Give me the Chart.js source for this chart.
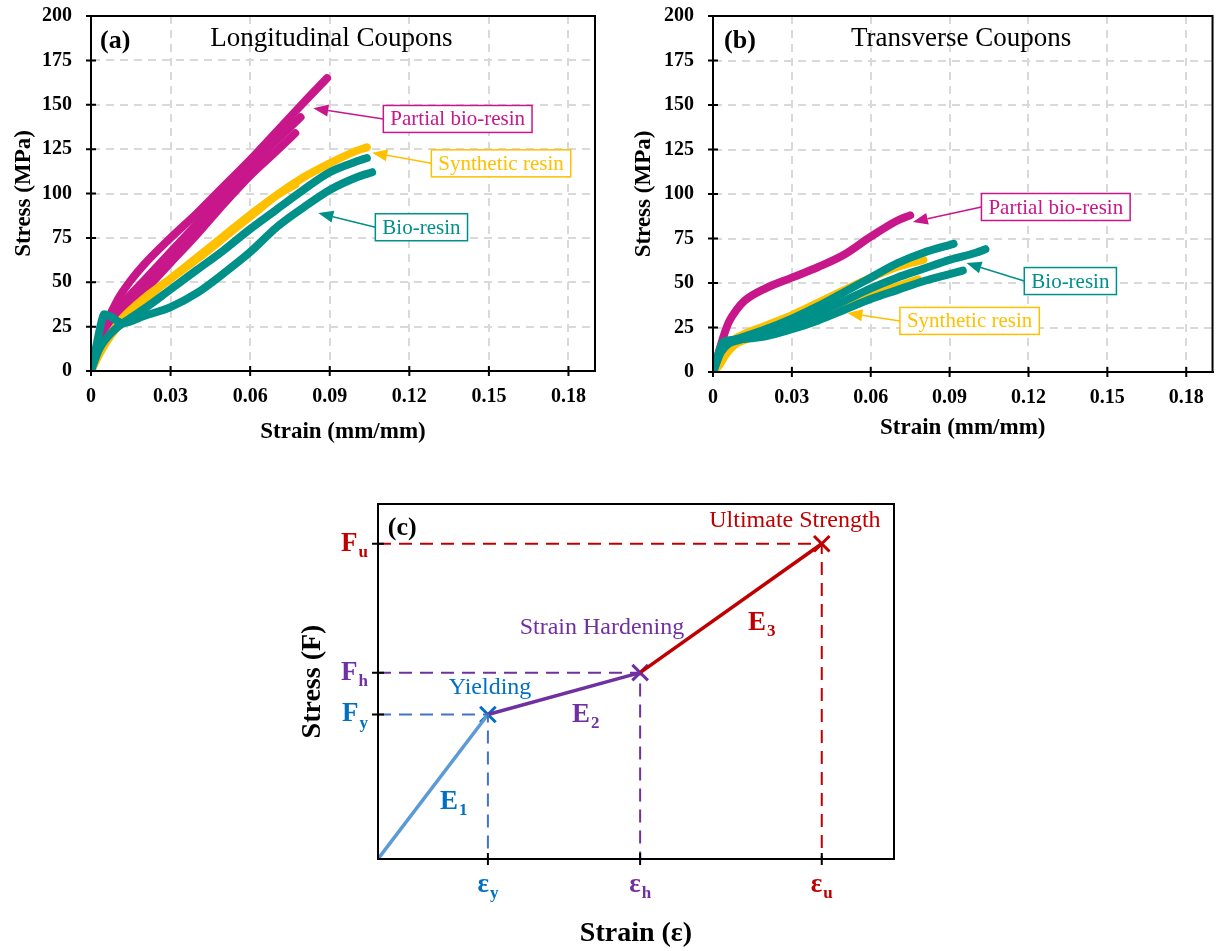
<!DOCTYPE html>
<html lang="en">
<head>
<meta charset="UTF-8">
<title>Tensile stress-strain curves</title>
<script src="https://cdn.jsdelivr.net/npm/chart.js@4"></script>
<style>
  body { margin: 0; background: #fff; overflow: hidden; }
  .panel { position: absolute; }
</style>
</head>
<body>
<div class="panel" style="left:0;top:-15px"><canvas id="chartA" width="610" height="465"></canvas></div>
<div class="panel" style="left:610px;top:-15px"><canvas id="chartB" width="608" height="465"></canvas></div>
<div class="panel" style="left:290px;top:490px"><canvas id="chartC" width="620" height="461"></canvas></div>
<script>
// axes of panels (a) and (b)
const strainTicks = [0, 0.03, 0.06, 0.09, 0.12, 0.15, 0.18];
const strainTickLabels = ['0', '0.03', '0.06', '0.09', '0.12', '0.15', '0.18'];
const stressTicks = [0, 25, 50, 75, 100, 125, 150, 175, 200];
const stressTickLabels = ['0', '25', '50', '75', '100', '125', '150', '175', '200'];

// (a) longitudinal coupons: [strain, stress MPa]
const longPartial1 = [[0,0],[0.002,10],[0.005,24],[0.01,40],[0.015,51],[0.02,60],[0.03,75],[0.04,89],[0.05,104],[0.06,119],[0.07,135],[0.08,151],[0.089,165]];
const longPartial2 = [[0,0],[0.003,13],[0.007,27],[0.012,38],[0.02,51],[0.03,67],[0.04,83],[0.05,99],[0.06,115],[0.07,130],[0.079,143]];
const longPartial3 = [[0,0],[0.003,11],[0.008,26],[0.014,36],[0.02,45],[0.03,61],[0.04,77],[0.05,94],[0.06,110],[0.07,124],[0.077,134]];
const longSynth1 = [[0,0],[0.003,10],[0.007,20],[0.012,30],[0.02,41],[0.03,52],[0.04,63],[0.05,75],[0.06,87],[0.07,99],[0.08,109],[0.09,117],[0.1,124],[0.104,126]];
const longSynth2 = [[0,0],[0.003,9],[0.008,21],[0.015,33],[0.02,40],[0.03,52],[0.04,64],[0.05,76],[0.06,88],[0.07,99],[0.077,105]];
const longBio1 = [[0,0],[0.003,12],[0.008,22],[0.015,30],[0.02,35],[0.03,46],[0.04,57],[0.05,68],[0.06,80],[0.07,91],[0.08,102],[0.09,112],[0.1,118],[0.104,120]];
const longBio2 = [[0,0],[0.002,14],[0.004,28],[0.005,32],[0.007,31],[0.012,27],[0.02,31],[0.03,36],[0.04,44],[0.05,55],[0.06,67],[0.07,81],[0.08,92],[0.09,102],[0.1,109],[0.106,112]];

// (b) transverse coupons
const transPartial = [[0,0],[0.002,10],[0.004,20],[0.006,28],[0.009,35],[0.012,40],[0.02,47],[0.03,53],[0.04,59],[0.05,66],[0.06,76],[0.07,85],[0.075,88]];
const transSynth1 = [[0,0],[0.002,4],[0.004,10],[0.007,17],[0.01,20],[0.02,26],[0.03,32],[0.04,39],[0.05,46],[0.06,53],[0.07,59],[0.08,63]];
const transSynth2 = [[0,0],[0.002,3],[0.005,10],[0.008,15],[0.012,18],[0.02,22],[0.03,28],[0.04,34],[0.05,39],[0.06,44],[0.07,48],[0.078,52]];
const transBio1 = [[0,0],[0.003,12],[0.006,17],[0.01,19],[0.02,24],[0.03,30],[0.04,37],[0.05,45],[0.06,53],[0.07,61],[0.08,67],[0.0915,72]];
const transBio2 = [[0,0],[0.003,11],[0.006,16],[0.01,18],[0.02,22],[0.03,27],[0.04,33],[0.05,40],[0.06,47],[0.07,53],[0.08,58],[0.09,63],[0.1,67],[0.1036,69]];
const transBio3 = [[0,0],[0.002,10],[0.004,17],[0.008,18],[0.015,19],[0.02,20],[0.03,24],[0.04,29],[0.05,35],[0.06,41],[0.07,46],[0.08,51],[0.09,55],[0.095,57]];

// (c) idealised trilinear model (relative units 0-100): origin, yield, hardening, ultimate
const modelStrain = [0, 21.3, 50.8, 86.0];
const modelStress = [0, 40.7, 52.5, 88.8];
const modelSubs = ['', 'y', 'h', 'u'];

const SERIF = '"Liberation Serif", "Times New Roman", serif';
const MAGENTA = '#C8178A', AMBER = '#FFC000', TEAL = '#00908A';
const BLUE = '#0070C0', LIGHTBLUE = '#5B9BD5', DASHBLUE = '#4472C4', PURPLE = '#7030A0', RED = '#C00000';

const pts = arr => arr.map(p => ({x: p[0], y: p[1]}));

function curve(arr, color) {
  return { data: pts(arr), borderColor: color, borderWidth: 8, showLine: true, pointRadius: 0,
           borderCapStyle: 'round', borderJoinStyle: 'round', cubicInterpolationMode: 'monotone', fill: false };
}

function axis(o) {
  return {
    type: 'linear', min: o.min, max: o.max,
    afterBuildTicks: s => { s.ticks = o.ticks.map(v => ({value: v})); },
    afterFit: s => { if (o.horizontal) s.height = o.size; else s.width = o.size; },
    ticks: { display: !!o.labels, autoSkip: false, maxRotation: 0, padding: o.tickPad || 0, color: '#000',
             font: {family: SERIF, size: 20, weight: 'bold'},
             callback: (v, i) => o.labels ? o.labels[i] : '' },
    grid: o.grid ? { color: '#d9d9d9', lineWidth: 2, drawTicks: false } : { display: false, drawTicks: false },
    border: { display: true, color: '#000', width: 2, dash: o.grid ? [8, 6] : [] },
    title: { display: true, text: o.title, color: '#000',
             font: {family: SERIF, size: o.titleSize, weight: 'bold', lineHeight: 1.2},
             padding: o.horizontal ? {top: 0, bottom: o.titlePad} : {top: o.titlePad, bottom: 0} }
  };
}

function drawText(ctx, t, px, py) {
  const w = t.bold ? 'bold ' : '';
  const mainFont = w + t.size + 'px ' + SERIF;
  const subSize = Math.round(t.size * 0.62);
  const subFont = w + subSize + 'px ' + SERIF;
  ctx.font = mainFont;
  const mw = ctx.measureText(t.text).width;
  let sw = 0;
  if (t.sub) { ctx.font = subFont; sw = ctx.measureText(t.sub).width + 1; }
  let left = px;
  if (t.align === 'center') left = px - (mw + sw) / 2;
  else if (t.align === 'right') left = px - (mw + sw);
  ctx.fillStyle = t.color || '#000';
  ctx.textBaseline = 'middle';
  ctx.textAlign = 'left';
  ctx.font = mainFont;
  ctx.fillText(t.text, left, py);
  if (t.sub) { ctx.font = subFont; ctx.fillText(t.sub, left + mw + 1, py + t.size * 0.32); }
}

function callout(ctx, x, y, c) {
  const bx = x.getPixelForValue(c.boxX), by = y.getPixelForValue(c.boxY);
  const hx = x.getPixelForValue(c.headX), hy = y.getPixelForValue(c.headY);
  ctx.font = '21px ' + SERIF;
  const w = ctx.measureText(c.text).width + 14, h = 27;
  const ang = Math.atan2(hy - by, hx - bx);
  const L = 15, W = 6;
  const baseX = hx - L * Math.cos(ang), baseY = hy - L * Math.sin(ang);
  ctx.strokeStyle = c.color; ctx.fillStyle = c.color; ctx.lineWidth = 1.5;
  ctx.beginPath(); ctx.moveTo(bx, by); ctx.lineTo(baseX, baseY); ctx.stroke();
  ctx.beginPath(); ctx.moveTo(hx, hy);
  ctx.lineTo(baseX + W * Math.sin(ang), baseY - W * Math.cos(ang));
  ctx.lineTo(baseX - W * Math.sin(ang), baseY + W * Math.cos(ang));
  ctx.closePath(); ctx.fill();
  ctx.fillStyle = '#fff'; ctx.fillRect(bx, by - h / 2, w, h);
  ctx.strokeRect(bx, by - h / 2, w, h);
  ctx.fillStyle = c.color; ctx.textBaseline = 'middle'; ctx.textAlign = 'left';
  ctx.fillText(c.text, bx + 7, by + 1);
}

// frame, crossing tick marks, labels and arrows
const notes = {
  id: 'notes',
  afterDraw(chart, args, o) {
    const {ctx, chartArea: a, scales: {x, y}} = chart;
    ctx.save();
    ctx.setLineDash([]);
    ctx.strokeStyle = '#000'; ctx.lineWidth = 2;
    ctx.strokeRect(a.left, a.top, a.right - a.left, a.bottom - a.top);
    ctx.beginPath();
    (o.xTicks || []).forEach(v => { const p = x.getPixelForValue(v); ctx.moveTo(p, a.bottom - o.tick); ctx.lineTo(p, a.bottom + o.tick); });
    (o.yTicks || []).forEach(v => { const p = y.getPixelForValue(v); ctx.moveTo(a.left - o.tick, p); ctx.lineTo(a.left + o.tick, p); });
    ctx.stroke();
    (o.callouts || []).forEach(c => callout(ctx, x, y, c));
    (o.texts || []).forEach(t => {
      const px = t.at === 'yTick' ? a.left - t.gap : x.getPixelForValue(t.x);
      const py = t.at === 'xTick' ? a.bottom + t.gap : y.getPixelForValue(t.y);
      drawText(ctx, t, px, py);
    });
    ctx.restore();
  }
};

function couponChart(id, datasets, yAxisWidth, rightPad, xAxisHeight, yTitlePad, xTitlePad, texts, callouts) {
  return new Chart(document.getElementById(id), {
    type: 'scatter',
    data: { datasets },
    plugins: [notes],
    options: {
      responsive: false, animation: false,
      layout: { padding: {left: 0, top: 0, right: rightPad, bottom: 0} },
      scales: {
        x: axis({min: 0, max: 0.19, ticks: strainTicks, labels: strainTickLabels, horizontal: true, size: xAxisHeight,
                 grid: true, tickPad: 14, title: 'Strain (mm/mm)', titleSize: 23, titlePad: xTitlePad}),
        y: axis({min: 0, max: 200, ticks: stressTicks, labels: stressTickLabels, horizontal: false, size: yAxisWidth,
                 grid: true, tickPad: 19, title: 'Stress (MPa)', titleSize: 23, titlePad: yTitlePad})
      },
      plugins: {
        legend: {display: false}, tooltip: {enabled: false},
        notes: { xTicks: strainTicks, yTicks: stressTicks, tick: 5, texts, callouts }
      }
    }
  });
}

couponChart('chartA',
  [curve(longBio1, TEAL), curve(longBio2, TEAL), curve(longSynth2, AMBER), curve(longSynth1, AMBER),
   curve(longPartial3, MAGENTA), curve(longPartial2, MAGENTA), curve(longPartial1, MAGENTA)],
  91, 15, 79, 10, 4,
  [ {text: '(a)', x: 0.0034, y: 186, size: 26, bold: true, align: 'left'},
    {text: 'Longitudinal Coupons', x: 0.0906, y: 187, size: 27, align: 'center'} ],
  [ {text: 'Partial bio-resin', color: MAGENTA, boxX: 0.1102, boxY: 142, headX: 0.0838, headY: 148},
    {text: 'Synthetic resin', color: AMBER, boxX: 0.1283, boxY: 117, headX: 0.106, headY: 123},
    {text: 'Bio-resin', color: TEAL, boxX: 0.1072, boxY: 81, headX: 0.0857, headY: 89} ]);

couponChart('chartB',
  [curve(transBio1, TEAL), curve(transBio2, TEAL), curve(transBio3, TEAL), curve(transSynth1, AMBER), curve(transSynth2, AMBER),
   curve(transPartial, MAGENTA)],
  103, 5, 78, 20, 8,
  [ {text: '(b)', x: 0.0042, y: 186, size: 26, bold: true, align: 'left'},
    {text: 'Transverse Coupons', x: 0.0944, y: 187, size: 27, align: 'center'} ],
  [ {text: 'Partial bio-resin', color: MAGENTA, boxX: 0.1021, boxY: 92.7, headX: 0.076, headY: 84.3},
    {text: 'Bio-resin', color: TEAL, boxX: 0.1184, boxY: 51.1, headX: 0.0964, headY: 61.2},
    {text: 'Synthetic resin', color: AMBER, boxX: 0.0711, boxY: 28.7, headX: 0.0511, headY: 33.1} ]);

// (c) model
const segColors = [LIGHTBLUE, PURPLE, RED];
const guideColors = [DASHBLUE, PURPLE, RED];
const markColors = [BLUE, PURPLE, RED];
const labelColors = [BLUE, PURPLE, RED];
const modelSets = [];
for (let i = 1; i < modelStrain.length; i++) {
  modelSets.push({ data: [{x: 0, y: modelStress[i]}, {x: modelStrain[i], y: modelStress[i]}, {x: modelStrain[i], y: 0}],
    borderColor: guideColors[i - 1], borderWidth: 2, borderDash: [13, 8], showLine: true, pointRadius: 0 });
}
for (let i = 1; i < modelStrain.length; i++) {
  modelSets.push({ data: [{x: modelStrain[i - 1], y: modelStress[i - 1]}, {x: modelStrain[i], y: modelStress[i]}],
    borderColor: segColors[i - 1], borderWidth: 3.5, showLine: true, pointRadius: 0 });
}
modelSets.push({ data: modelStrain.slice(1).map((v, i) => ({x: v, y: modelStress[i + 1]})),
  showLine: false, pointStyle: 'crossRot', pointRadius: 11, pointBorderWidth: 3, borderColor: markColors, backgroundColor: markColors });

const modelTexts = [
  {text: '(c)', x: 1.9, y: 93.3, size: 26, bold: true, align: 'left'},
  {text: 'Ultimate Strength', x: 80.8, y: 95.2, size: 24, color: RED, align: 'center'},
  {text: 'Strain Hardening', x: 43.4, y: 65.2, size: 24, color: PURPLE, align: 'center'},
  {text: 'Yielding', x: 21.7, y: 48.3, size: 24, color: BLUE, align: 'center'},
  {text: 'E', sub: '1', x: 12.0, y: 16.0, size: 27, bold: true, color: BLUE, align: 'left'},
  {text: 'E', sub: '2', x: 37.6, y: 40.5, size: 27, bold: true, color: PURPLE, align: 'left'},
  {text: 'E', sub: '3', x: 71.7, y: 66.6, size: 27, bold: true, color: RED, align: 'left'}
];
for (let i = 1; i < modelStrain.length; i++) {
  modelTexts.push({text: 'F', sub: modelSubs[i], at: 'yTick', gap: 10, y: modelStress[i], size: 27, bold: true, color: labelColors[i - 1], align: 'right'});
  modelTexts.push({text: 'ε', sub: modelSubs[i], at: 'xTick', gap: 26, x: modelStrain[i], size: 27, bold: true, color: labelColors[i - 1], align: 'center'});
}

new Chart(document.getElementById('chartC'), {
  type: 'scatter',
  data: { datasets: modelSets },
  plugins: [notes],
  options: {
    responsive: false, animation: false,
    layout: { padding: {left: 0, top: 13, right: 16, bottom: 0} },
    scales: {
      x: axis({min: 0, max: 100, ticks: modelStrain.slice(1), horizontal: true, size: 92, grid: false,
               title: 'Strain (ε)', titleSize: 28, titlePad: 0}),
      y: axis({min: 0, max: 100, ticks: modelStress.slice(1), horizontal: false, size: 88, grid: false,
               title: 'Stress (F)', titleSize: 28, titlePad: 6})
    },
    plugins: {
      legend: {display: false}, tooltip: {enabled: false},
      notes: { xTicks: modelStrain.slice(1), yTicks: modelStress.slice(1), tick: 6, texts: modelTexts }
    }
  }
});
</script>
</body>
</html>
